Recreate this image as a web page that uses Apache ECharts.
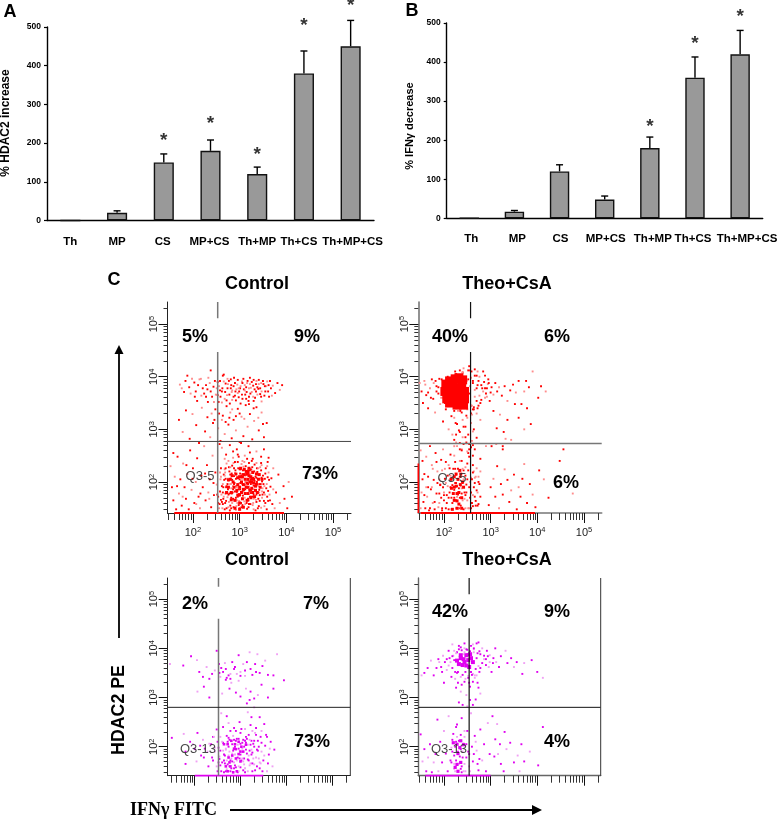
<!DOCTYPE html>
<html><head><meta charset="utf-8">
<style>html,body{margin:0;padding:0;background:#fff}#c{width:778px;height:820px}</style>
<script src="https://cdn.jsdelivr.net/npm/echarts@6/dist/echarts.min.js"></script>
</head><body><div id="c"></div>
<script>
const categories=['Th','MP','CS','MP+CS','Th+MP','Th+CS','Th+MP+CS'];
const hdac2Values=[0,20,150,180,120,380,450];
const hdac2ErrTop=[null,25,172,208,138,438,517];
const hdac2Stars=[null,null,212,255,175,509,560];
const ifnValues=[0,17,120,48,180,360,420];
const ifnErrTop=[null,20,137,57,208,413,481];
const ifnStars=[null,null,null,null,239,452,522];
const yTicks=[0,100,200,300,400,500];
const decadeLabels=[2,3,4,5];
const labelShiftA=[0,0,-1,-1,0,-5,2];
const labelShiftB=[2,3,1,1,3,-2,7];

// Flow events: flat x,y pairs, log10 units x100
const p1Sparse=[172,385,181,371,188,402,195,368,203,389,209,354,214,395,221,378,228,362,233,398,238,412,244,381,249,366,253,390,258,374,262,351,266,404,270,387,273,365,277,392,281,378,284,356,288,398,291,372,295,385,298,361,302,349,305,391,309,376,312,366,316,388,319,354,322,398,326,371,329,383,333,360,336,392,340,377,344,367,347,353,351,386,355,372,359,391,363,362,367,378,371,383,376,369,381,388,386,375,391,384,
262,372,268,358,274,378,279,349,283,371,287,382,292,355,296,369,301,378,306,358,311,384,315,371,320,362,324,379,330,354,335,372,341,386,346,362,253,365,245,352,238,372,228,384,218,364,206,372,
170,318,178,295,185,336,193,282,199,329,207,308,213,274,219,341,226,296,231,323,237,285,243,312,248,338,254,302,259,278,264,326,268,291,272,344,276,309,280,332,283,283,287,318,292,298,296,339,300,276,304,324,308,287,313,346,317,305,322,329,327,281,331,316,336,342,341,298,347,332,352,285,358,312,
152,230,155,190,158,165,161,210,164,148,167,248,170,178,173,205,176,155,179,235,182,190,185,168,188,215,191,148,194,260,197,185,200,226,203,160,206,200,209,245,212,172,215,150,218,212,221,190,224,268,227,165,230,232,233,180,236,205,239,152,242,250,245,175,248,218,251,195,254,160,257,272,260,210,158,255,166,192,178,172,186,232,199,206,207,158,216,178,226,216,235,168,244,198,252,176,
262,265,271,252,279,270,286,246,294,262,303,274,311,250,319,268,328,244,336,258,346,248,360,238,372,226,383,214,394,192,405,200,396,168,378,180,386,160,402,150,412,172,375,150,362,246,352,262,268,244,298,248,322,256];
const p1Upper=[256,382,259,362,263,378,266,391,269,371,272,355,275,386,278,366,281,395,284,374,287,362,290,388,293,376,296,394,299,372,302,382,305,366,308,396,311,374,314,358,317,392,320,378,323,368,326,390,329,362,332,376,335,386,338,366,341,394,344,378,347,372,350,392,353,364,357,382,361,372,365,392,369,364,258,392,264,402,274,396,282,384,290,364,298,378,306,388,314,380,322,386,330,394,338,380,346,388,354,382,362,384,
176,378,184,392,192,380,198,396,204,362,211,384,217,396,224,368,231,376,236,388,241,362,247,392,251,378,255,352,
232,352,240,330,246,318,256,330,262,318,270,314,278,322,284,338,292,325,300,330,310,320,320,348,330,340,340,322,350,310];
const p1Dense=[256,150,262,162,268,148,274,171,280,155,286,168,292,147,298,176,304,152,310,163,316,149,322,172,328,156,334,146,340,168,346,151,352,164,358,148,364,176,370,158,
258,182,264,196,270,178,276,203,282,188,288,211,294,181,300,198,306,215,312,186,318,204,324,179,330,193,336,218,342,185,348,201,354,176,360,209,366,191,372,186,
260,226,266,214,272,235,278,220,284,231,290,217,296,238,302,224,308,229,314,214,320,236,326,222,332,233,338,219,344,228,350,212,356,226,362,218,368,207,
254,172,259,205,265,168,271,190,277,162,283,178,289,198,295,160,301,186,307,174,313,195,319,165,325,184,331,170,337,200,343,175,349,188,355,160,361,183,
263,150,269,160,275,186,281,207,287,152,293,192,299,210,305,168,311,206,317,178,323,158,329,208,335,182,341,154,347,208,353,192,359,172,365,165,
258,218,264,180,270,206,276,152,282,170,288,226,294,165,300,150,306,196,312,158,318,222,324,196,330,148,336,162,342,206,348,170,354,206,
262,192,268,224,274,196,280,214,286,192,292,206,298,186,304,234,310,194,316,190,322,208,328,172,334,210,340,192,346,222,352,180,358,196,
300,205,306,182,312,212,318,196,324,204,330,186,336,176,342,196,348,182,296,172,290,182,284,160,278,178,272,150,266,172,260,166,
257,158,261,176,265,190,267,204,269,218,271,164,273,180,275,206,277,228,279,146,281,196,283,216,285,180,287,236,289,166,291,222,293,154,295,208,297,226,299,164,301,216,303,160,305,206,307,222,309,184,311,170,313,230,315,160,317,214,319,152,321,186,323,216,325,172,327,228,329,160,331,220,333,184,335,166,337,226,339,150,341,214,343,164,345,196,347,232,349,176,351,196,353,154,355,216,357,188,359,230,361,164,363,204,
276,240,286,258,296,252,306,240,316,244,326,240,336,236,346,236,270,226,280,196,290,238,300,174,310,238,320,158,330,176,340,226,292,170,302,198,312,214,322,222,332,202,342,180,
282,150,288,196,294,190,300,224,306,156,312,200,318,168,324,224,330,168,336,208,264,158,268,212,272,192,276,176,280,228,284,204,286,186,290,150,298,156,304,212];
const p1Core=[300,210,308,195,316,215,322,200,330,205,318,190,326,188,312,178,304,180,296,195,334,192,340,205,328,218,320,226,310,224,302,226,292,215,286,200,282,180,290,165,300,160,308,152,316,165,324,170,332,172,338,180,344,190,348,205,336,215,326,200,318,205,312,205,320,212,316,198,300,190,296,175,288,190,280,205,276,190,300,148,290,150,
306,210,314,190,322,184,330,198,324,210,314,220,304,200,296,208,284,212,276,204,272,180,282,166,294,184,306,168,318,178,328,180,336,196,342,214,310,214,300,176,308,186,326,206,334,184,318,218];
const p2Sparse=[148,388,152,372,155,350,158,392,162,365,166,340,170,378,174,395,177,358,181,332,184,382,188,368,192,348,195,395,198,315,201,372,204,338,208,400,210,300,213,358,216,325,218,290,222,280,225,312,228,268,232,298,235,335,238,262,242,305,246,285,250,322,254,272,258,345,262,296,
270,402,274,345,278,318,282,378,288,402,256,382,258,330,262,392,266,375,259,410,264,342,270,330,252,395,250,372,246,392,240,408,
262,388,266,362,270,378,274,392,276,364,278,350,280,384,284,372,286,390,290,368,294,386,298,354,302,380,306,366,310,388,314,372,318,380,324,364,330,382,336,354,342,374,348,385,354,370,360,392,366,348,372,372,376,392,382,380,390,410,402,360,408,382,418,372,306,335,313,302,320,328,328,295,336,318,344,280,352,348,360,322,372,300,378,340,386,310,312,272,326,262,302,268,
150,260,154,240,158,215,162,248,166,190,170,268,174,232,178,204,182,255,186,220,190,178,194,242,198,262,202,206,206,160,210,232,214,252,218,194,222,268,226,214,230,176,234,240,238,260,242,222,246,150,250,235,254,262,258,208,262,250,266,172,270,226,274,158,278,244,
152,180,156,162,160,150,164,172,168,146,172,186,176,160,180,148,184,178,188,152,192,194,196,146,200,180,204,150,
262,232,266,208,270,184,274,200,278,220,252,255,248,275,240,285,234,274,226,290,260,278,
262,154,268,164,274,210,278,172,262,270,290,268,296,156,300,190,306,206,310,172,314,230,318,150,322,196,326,176,330,224,336,204,340,162,344,184,350,214,356,148,360,190,364,172,368,206,372,234,378,160,384,196,390,176,396,152,404,222,414,205,424,170,448,240,476,178,456,262,326,268,332,282];
const p2Dense=[190,205,194,170,198,190,202,225,206,175,210,148,214,212,218,160,222,185,226,150,230,205,234,170,238,188,242,148,246,212,250,165,254,190,258,150,262,175,266,198,196,150,204,198,212,180,220,225,228,172,236,210,244,180,252,150,260,205,268,155,272,180,200,165,208,212,216,148,224,198,232,150,240,225,248,195,256,170,264,220,
230,380,236,362,242,350,248,392,254,368,260,345,266,402,272,384,222,370,226,352,232,400,240,408,246,345,252,412,258,398,264,338,270,354,228,392,234,342,244,372,250,338,256,412,262,338,272,410,
182,392,188,380,198,360,204,388,212,396,218,380,224,410,288,378,292,362,295,395,300,370,
160,385,166,370,172,360,178,388,184,372,190,396,194,360,198,378,202,350,206,392,210,370,214,345,218,398,222,335,226,405,230,335,234,412,238,332,242,416,248,326,254,420,260,328,266,414,272,340,276,400,280,356,284,410,288,360,292,378,296,388,
222,322,228,310,234,295,240,318,246,305,252,290,258,312,264,300,270,284,226,275,234,262,242,272,250,258,258,266,266,262,222,250,230,225,238,240,246,228,254,248,262,218,
176,225,184,238,192,195,196,222,200,175,204,238,208,192,212,226,216,170,220,208,224,238,228,192,232,220,236,155,240,198,244,168,248,180,252,222,256,200,260,160,264,190,268,210,272,155,276,196,190,160,186,198,180,162,174,190,170,150,166,210,162,190,158,175,154,205,150,150,
210,170,214,190,218,205,222,170,226,198,230,150,234,210,238,178,242,205,246,175,250,205,254,150,258,180,226,165,236,192,224,225,232,188,240,165];
const p2Blob=[202,372,208,378,214,362,220,382,226,370,232,358,238,385,244,372,206,358,212,350,220,354,228,346,236,352,244,358,240,394,232,398,224,396,212,392,204,386,242,346,218,368,230,378];
const p2LowBlob=[215,205,222,190,228,178,235,195,222,165,232,158,226,215,238,170,230,205,220,178,228,150,238,150,236,215,218,148,242,190,226,192,232,180,222,210,234,222,216,188,240,200,228,164];
const p3Sparse=[146,368,175,365,192,384,205,376,210,352,218,342,226,362,232,338,238,348,244,355,248,395,253,368,256,342,258,360,262,352,266,370,270,340,274,345,278,348,282,372,286,358,292,348,296,386,300,344,306,368,310,355,314,372,320,392,326,346,332,368,337,388,342,350,348,364,354,375,360,346,372,345,380,388,395,335,372,318,
206,312,220,322,232,300,260,308,268,336,276,318,280,330,290,310,300,302,312,318,322,312,330,298,338,305,346,326,360,300,
258,268,270,262,314,288,316,270,320,295,324,260,330,280,342,260,352,246,326,232,
100,240,180,190,196,205,180,165,
150,218,176,226,190,210,200,195,204,170,206,228,214,182,218,214,222,196,230,160,232,206,238,178,240,220,244,198,248,235,250,150,254,180];
const p3Dense=[248,160,254,175,258,150,262,192,266,166,270,222,274,182,278,150,282,205,286,168,290,232,294,148,298,192,302,172,306,214,310,156,314,186,318,224,322,166,326,150,330,200,334,178,338,212,342,156,346,190,350,172,354,202,358,150,362,184,366,210,370,160,374,194,
252,198,256,220,260,168,264,148,268,194,272,164,276,214,280,176,284,148,288,200,292,172,296,216,300,158,304,196,308,176,312,208,316,150,320,192,324,212,328,176,332,152,336,194,340,176,344,220,348,150,352,182,356,224,360,166,364,196,
262,208,266,182,270,154,274,200,278,232,282,186,286,214,290,158,294,204,298,176,302,236,306,190,310,148,314,216,318,182,322,204,326,188,330,164,334,224,338,192,342,168,346,208,
282,170,288,184,294,178,300,206,306,170,312,194,318,172,324,194,330,212,276,160,270,172,264,184,300,184,304,176,296,196,308,200,316,204,284,192,290,212,276,190,272,210,310,212,320,214,326,166,286,156,296,160,306,152,278,172,
268,196,274,218,280,156,284,222,288,162,292,216,296,150,300,228,304,208,308,164,312,220,316,174,320,162,324,184,328,206,332,228,336,160,340,200,344,166,252,168,256,192,260,210,264,172,268,150,244,190,240,172,
262,240,274,248,286,238,298,250,310,236,322,244,334,238,346,232,358,220,
236,205,228,190,220,178,212,202,242,220,250,210,256,162,300,352,288,362,278,338,310,344,322,358,334,352,296,334,268,358,254,350];
const p3Core=[272,205,280,212,288,205,296,210,302,200,290,195,282,182,274,178,268,160,278,160,292,150,300,170,284,148,272,150,264,205,296,185,306,190,300,190,286,196,276,168,290,176,312,204];
const p4Sparse=[152,345,158,350,165,360,172,375,178,345,184,360,190,372,196,352,200,330,206,356,212,380,216,342,222,395,226,320,230,352,236,312,240,365,244,332,248,305,252,340,256,322,262,348,268,296,272,330,278,308,232,290,240,285,250,282,256,295,262,285,266,345,274,320,
210,395,220,385,228,392,236,402,242,388,250,397,258,405,264,398,270,410,276,394,282,400,286,385,292,395,298,386,305,370,310,400,218,408,232,405,244,410,262,408,274,412,
290,378,296,362,302,352,306,380,312,372,318,362,322,384,332,395,336,370,344,380,350,362,356,372,368,348,372,370,388,376,400,352,412,340,264,400,
150,225,154,170,158,195,162,150,166,178,170,205,174,148,178,168,182,185,186,255,188,150,192,210,196,168,200,232,204,186,208,150,210,262,214,172,218,214,222,155,226,240,230,190,234,168,238,258,242,206,246,150,250,232,254,185,258,268,262,170,266,222,270,192,274,152,278,235,282,172,286,205,290,150,294,248,298,185,
310,215,316,185,322,165,328,150,334,195,342,208,350,168,358,182,366,205,372,170,384,190,402,162,412,240,362,150,304,262,308,180,314,246,320,205,330,230,
216,198,222,182,226,210,232,165,236,195,240,178,244,220,248,205,252,190,256,150,260,200,264,185,268,210,272,165,276,175,224,150,230,150,238,148,244,165];
const p4Dense=[214,372,218,360,222,376,226,390,228,350,232,366,234,384,238,396,240,346,244,392,246,352,248,398,252,344,256,394,260,346,264,392,268,358,270,380,274,364,278,388,282,370,286,378,290,366,294,384,298,372,218,384,224,352,236,342,250,388,258,352,266,340,272,390,276,352,
210,365,206,378,202,372,198,385,194,362,188,378,
224,338,230,330,238,326,246,338,254,330,262,332,270,345,278,360,232,398,244,400,
232,212,224,200,228,220,236,224,218,190,240,190,226,172,234,180,222,165,238,160,248,178,254,160,216,168,220,226,244,232,228,245,236,155,242,150];
const p4Blob=[228,375,236,380,244,372,252,376,258,380,232,368,240,366,248,365,254,362,262,372,236,386,248,386,256,388,242,378];
const p4LowBlob=[220,208,228,205,236,212,242,204,234,198,230,150,224,158,228,164,236,168,230,186];
const axisEventsX=[[160,395],[150,395],[200,350],[160,300]];
const gatesX=[2.53,2.57,2.52,2.54];
const gatesY=[2.77,2.73,2.80,2.80];

const Fn='"Liberation Sans",Arial,sans-serif';
function pairs(a){const o=[];for(let i=0;i<a.length;i+=2)o.push([a[i]/100,a[i+1]/100]);return o;}
const grids=[],xAxes=[],yAxes=[],series=[];

function barPanel(box,vals,errs,stars,fs,shift){
  const g=grids.length;grids.push({...box,outerBoundsMode:'none'});
  const xi=xAxes.length,yi=yAxes.length;
  xAxes.push({type:'category',gridIndex:g,
    data:categories.map((c,i)=>({value:c,textStyle:{padding:shift[i]>=0?[0,0,0,2*shift[i]]:[0,-2*shift[i],0,0]}})),
    axisLine:{lineStyle:{color:'#000',width:1.4}},
    axisTick:{length:3,lineStyle:{color:'#000',width:1.2}},
    axisLabel:{interval:0,hideOverlap:false,margin:15,color:'#000',fontFamily:Fn,fontWeight:'bold',fontSize:11.5,overflow:'none'}});
  yAxes.push({type:'value',gridIndex:g,min:0,max:500,interval:100,splitLine:{show:false},
    axisLine:{show:true,lineStyle:{color:'#000',width:1.4}},axisTick:{show:true,length:3,lineStyle:{color:'#000',width:1.2}},
    axisLabel:{margin:6,color:'#000',fontFamily:Fn,fontWeight:'bold',fontSize:fs,customValues:yTicks}});
  series.push({type:'bar',xAxisIndex:xi,yAxisIndex:yi,data:vals,barWidth:'43%',silent:true,
    itemStyle:{color:'#999999',borderColor:'#111',borderWidth:1.4}});
  series.push({type:'custom',xAxisIndex:xi,yAxisIndex:yi,silent:true,clip:false,
    data:errs.map((e,i)=>[i,vals[i],e]).filter(d=>d[2]!==null),z:1,
    renderItem(p,api){const a=api.coord([api.value(0),api.value(1)]),b=api.coord([api.value(0),api.value(2)]);
      const st={stroke:'#000',lineWidth:1.4};
      return {type:'group',children:[
        {type:'line',shape:{x1:a[0],y1:a[1],x2:b[0],y2:b[1]},style:st},
        {type:'line',shape:{x1:b[0]-3.5,y1:b[1],x2:b[0]+3.5,y2:b[1]},style:st}]};}});
  series.push({type:'scatter',xAxisIndex:xi,yAxisIndex:yi,silent:true,clip:false,symbolSize:1,
    itemStyle:{color:'transparent'},
    data:stars.map((s,i)=>[i,s]).filter(d=>d[1]!==null),
    label:{show:true,position:'inside',offset:[0,2],formatter:'*',color:'#000',fontFamily:Fn,fontWeight:'bold',fontSize:19}});
}
function superLabel(v){return '{b|10}{s|'+v+'}';}
function flowPanel(c){
  const g=grids.length;grids.push({left:c.left,top:c.top,width:c.right-c.left,height:c.bottom-c.top,outerBoundsMode:'none'});
  const minor=[];for(let d=1;d<=5;d++)for(let k=1;k<=9;k++){const v=d+Math.log10(k);minor.push(v);}
  const mx=minor.filter(v=>v>=c.x[0]&&v<=c.x[1]),my=minor.filter(v=>v>=c.y[0]&&v<=c.y[1]);
  const line={show:true,onZero:false,lineStyle:{color:c.axisCol,width:c.axisW}};
  const rich={b:{fontFamily:Fn,fontSize:11,color:'#222'},s:{fontFamily:Fn,fontSize:7.5,color:'#222',verticalAlign:'top',padding:[0,0,5,0]}};
  const xi=xAxes.length,yi=yAxes.length;
  xAxes.push({type:'value',gridIndex:g,min:c.x[0],max:c.x[1],position:'bottom',splitLine:{show:false},axisLine:line,
    axisTick:{show:true,customValues:mx,length:7,lineStyle:{color:'#333',width:1}},
    axisLabel:{show:c.labels,customValues:decadeLabels,margin:13,formatter:superLabel,rich}});
  xAxes.push({type:'value',gridIndex:g,min:c.x[0],max:c.x[1],position:'bottom',splitLine:{show:false},axisLine:{show:false,onZero:false},
    axisTick:{show:true,customValues:decadeLabels,length:10,lineStyle:{color:'#111',width:1}},axisLabel:{show:false}});
  yAxes.push({type:'value',gridIndex:g,min:c.y[0],max:c.y[1],position:'left',splitLine:{show:false},axisLine:line,
    axisTick:{show:true,customValues:my,length:4,lineStyle:{color:'#333',width:1}},
    axisLabel:{show:true,customValues:decadeLabels,margin:7,rotate:90,formatter:superLabel,rich}});
  yAxes.push({type:'value',gridIndex:g,min:c.y[0],max:c.y[1],position:'left',splitLine:{show:false},axisLine:{show:false,onZero:false},
    axisTick:{show:true,customValues:decadeLabels,length:9,lineStyle:{color:'#111',width:1}},axisLabel:{show:false}});
  const ref={xAxisIndex:xi,yAxisIndex:yi,silent:true};
  const dots=(arr,size,col,alt)=>series.push({...ref,type:'scatter',symbol:'rect',symbolSize:size,data:pairs(arr),
    itemStyle:{opacity:1,color:alt?(p=>p.dataIndex%3===0?alt:col):col}});
  c.layers.forEach(l=>dots(l,1.9,c.col,c.pale));
  c.blobs.forEach(b=>dots(b[0],b[1],c.col));
  const seg=(pts,col,w)=>series.push({...ref,type:'line',data:pts,symbol:'none',clip:false,z:4,lineStyle:{color:col,width:w},itemStyle:{color:col}});
  seg([[c.ev[0]/100,c.y[0]],[c.ev[1]/100,c.y[0]]],c.col,1.8);
  seg([[c.gx,c.y[0]],[c.gx,c.gap[0]]],c.gateCol,c.gateW);
  seg([[c.gx,c.gap[1]],[c.gx,c.y[1]]],c.gateCol,c.gateW);
  seg([[c.x[0],c.gy],[c.x[1],c.gy]],c.hCol,c.hW);
  if(c.border)seg([[c.x[1],c.y[0]],[c.x[1],c.y[1]]],'#333',1);
  if(c.leftEv)seg([[c.x[0],c.y[0]],[c.x[0],c.leftEv]],c.col,1.6);
}

barPanel({left:47,top:27,width:327,height:193.5},hdac2Values,hdac2ErrTop,hdac2Stars,8.5,labelShiftA);
barPanel({left:446.7,top:23,width:316,height:195.3},ifnValues,ifnErrTop,ifnStars,8.5,labelShiftB);
const RED='#ff0000',PINK='#ff8c8c',MAG='#e000f0',LIL='#f0a0f4';
flowPanel({left:167.5,right:351,top:302,bottom:513,x:[1.455,5.385],y:[1.41,5.42],labels:true,axisCol:'#222',axisW:1,col:RED,pale:PINK,
  layers:[p1Sparse,p1Upper,p1Dense],blobs:[[p1Core,3]],ev:axisEventsX[0],gx:gatesX[0],gy:gatesY[0],gap:[4.47,5.11],gateCol:'#777',gateW:1.5,hCol:'#444',hW:1});
flowPanel({left:418.3,right:601.7,top:302,bottom:513,x:[1.45,5.38],y:[1.41,5.42],labels:true,axisCol:'#777',axisW:1.6,col:RED,pale:PINK,
  layers:[p2Sparse,p2Dense],blobs:[[p2Blob,9],[p2LowBlob,3]],ev:axisEventsX[1],gx:gatesX[1],gy:gatesY[1],gap:[4.47,5.11],gateCol:'#111',gateW:1.2,hCol:'#777',hW:1.6,leftEv:2.35});
flowPanel({left:167.7,right:350.3,top:578,bottom:775.7,x:[1.41,5.4],y:[1.41,5.43],labels:false,axisCol:'#222',axisW:1,col:MAG,pale:LIL,
  layers:[p3Sparse,p3Dense],blobs:[[p3Core,2.6]],ev:axisEventsX[2],gx:gatesX[2],gy:gatesY[2],gap:[4.6,5.25],gateCol:'#777',gateW:1.5,hCol:'#222',hW:1,border:true});
flowPanel({left:418.3,right:600.7,top:578,bottom:775.7,x:[1.45,5.36],y:[1.41,5.43],labels:false,axisCol:'#666',axisW:1.4,col:MAG,pale:LIL,
  layers:[p4Sparse,p4Dense],blobs:[[p4Blob,4],[p4LowBlob,3.2]],ev:axisEventsX[3],gx:gatesX[3],gy:gatesY[3],gap:[4.41,5.1],gateCol:'#111',gateW:1.2,hCol:'#111',hW:1,border:true});

function T(text,x,y,size,opt={}){return {type:'text',x,y,rotation:opt.rot||0,z:20,silent:true,style:{text,x:0,y:0,fill:opt.fill||'#000',align:'center',verticalAlign:'middle',
  font:(opt.w||'bold')+' '+size+'px '+(opt.fam||Fn)}};}
const R=Math.PI/2;
const Q={w:'normal',fill:'rgba(40,40,40,0.85)'};
const texts=[
 T('A',10,12,18),T('B',412,11,18),T('C',114,280,18),
 T('% HDAC2 increase',5.5,123,12,{rot:R}),T('% IFNγ decrease',410,126,11,{rot:R}),
 T('Control',257,284,18),T('Theo+CsA',507,284,18),T('Control',257,560,18),T('Theo+CsA',507,560,18),
 T('5%',195,337,18),T('9%',307,337,18),T('73%',320,474,18),
 T('40%',450,337,18),T('6%',557,337,18),T('6%',566,483,18),
 T('2%',195,604,18),T('7%',316,604,18),T('73%',312,742,18),
 T('42%',450,612,18),T('9%',557,612,18),T('4%',557,742,18),
 T('Q3-5',200,476,13,Q),T('Q3-5',452,478,13,Q),
 T('Q3-13',198,749,13,Q),T('Q3-13',449,749,13,Q),
 T('HDAC2 PE',119,710,17.8,{rot:R}),
 T('IFNγ FITC',173.5,810,18,{fam:'"Liberation Serif",serif'}),
 {type:'line',z:20,silent:true,shape:{x1:119,y1:352,x2:119,y2:638},style:{stroke:'#000',lineWidth:1.8}},
 {type:'polygon',z:20,silent:true,shape:{points:[[119,345],[114.5,354],[123.5,354]]},style:{fill:'#000'}},
 {type:'line',z:20,silent:true,shape:{x1:230,y1:810,x2:533,y2:810},style:{stroke:'#000',lineWidth:1.8}},
 {type:'polygon',z:20,silent:true,shape:{points:[[542,810],[532,805],[532,815]]},style:{fill:'#000'}}
];
const chart=echarts.init(document.getElementById('c'),null,{width:778,height:820});
chart.setOption({animation:false,backgroundColor:'#fff',grid:grids,xAxis:xAxes,yAxis:yAxes,series,graphic:{elements:texts}});
</script></body></html>
